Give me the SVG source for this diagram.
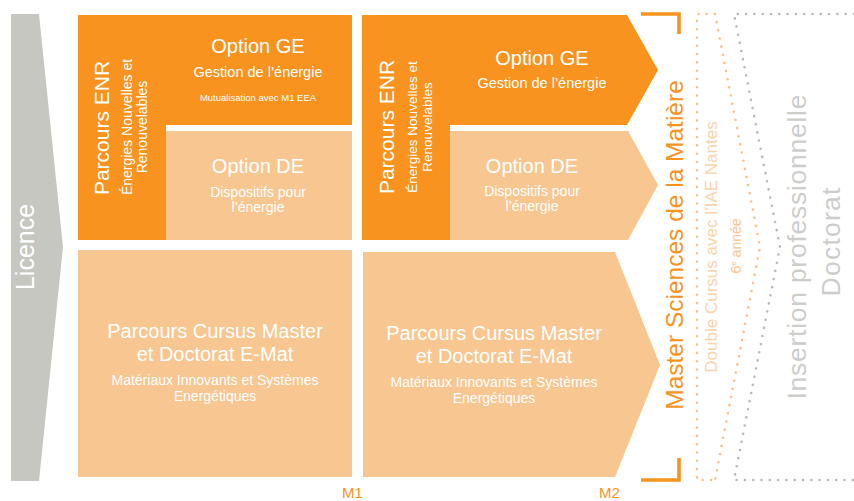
<svg xmlns="http://www.w3.org/2000/svg" width="854" height="501" viewBox="0 0 854 501">
<style>
.or{fill:#f7931e}
.lt{fill:#f8c690}
.t{font-family:"Liberation Sans",Arial,sans-serif;fill:#fff;text-anchor:middle}
.h{font-size:20px}
.s{font-size:14px}
.dot{fill:none;stroke-width:2.6;stroke-linecap:round;stroke-dasharray:0 8.3}
</style>
<rect width="854" height="501" fill="#fff"/>
<g id="licence">
<polygon points="11,14 39,14 63,247 39,481 11,481" fill="#c7c7c2"/>
<text class="t" x="34" y="247" font-size="25" transform="rotate(-90 34 247)">Licence</text>
</g>
<g id="m1-enr-ge">
<path class="or" d="M78,15H352V125H166V240H78Z"/>
<g transform="rotate(-90 109 128)"><text class="t" x="109" y="128" font-size="21">Parcours ENR</text></g>
<g transform="rotate(-90 132 127)"><text class="t s" x="132" y="127" font-size="13.5">Énergies Nouvelles et</text></g>
<g transform="rotate(-90 147 127)"><text class="t s" x="147" y="127" font-size="13.5">Renouvelables</text></g>
<text class="t h" x="258" y="53">Option GE</text>
<text class="t" x="258" y="77" font-size="14.5">Gestion de l’énergie</text>
<text class="t" x="258" y="101" font-size="9.5">Mutualisation avec M1 EEA</text>
</g>
<g id="m1-de">
<rect class="lt" x="166" y="131" width="186" height="109"/>
<text class="t h" x="258" y="173">Option DE</text>
<text class="t s" x="258" y="197">Dispositifs pour</text>
<text class="t s" x="258" y="212">l’énergie</text>
</g>
<g id="m1-emat">
<rect class="lt" x="78" y="250" width="274" height="227"/>
<text class="t h" x="215" y="338">Parcours Cursus Master</text>
<text class="t h" x="215" y="361">et Doctorat E-Mat</text>
<text class="t s" x="215" y="385">Matériaux Innovants et Systèmes</text>
<text class="t s" x="215" y="401">Energétiques</text>
</g>
<g id="m2-enr-ge">
<path class="or" d="M362,15H627L658,70L627,125H450V240H362Z"/>
<g transform="rotate(-90 394 127)"><text class="t" x="394" y="127" font-size="21">Parcours ENR</text></g>
<g transform="rotate(-90 417 127)"><text class="t" x="417" y="127" font-size="13.5">Énergies Nouvelles et</text></g>
<g transform="rotate(-90 432 127)"><text class="t" x="432" y="127" font-size="13.5">Renouvelables</text></g>
<text class="t h" x="542" y="65">Option GE</text>
<text class="t" x="542" y="88" font-size="14.5">Gestion de l’énergie</text>
</g>
<g id="m2-de">
<path class="lt" d="M450,131H628L658,185L628,240H450Z"/>
<text class="t h" x="532" y="173">Option DE</text>
<text class="t s" x="532" y="196">Dispositifs pour</text>
<text class="t s" x="532" y="211">l’énergie</text>
</g>
<g id="m2-emat">
<path class="lt" d="M363,252H615L660,365L615,477H363Z"/>
<text class="t h" x="494" y="340">Parcours Cursus Master</text>
<text class="t h" x="494" y="363">et Doctorat E-Mat</text>
<text class="t s" x="494" y="387">Matériaux Innovants et Systèmes</text>
<text class="t s" x="494" y="403">Energétiques</text>
</g>
<g id="labels" font-family="Liberation Sans, Arial, sans-serif" font-size="15" fill="#f7931e">
<text x="342" y="498">M1</text>
<text x="599" y="498">M2</text>
</g>
<g id="master">
<polyline points="641,14 679,14 679,34" fill="none" stroke="#f7931e" stroke-width="3.6"/>
<polyline points="641,480 679,480 679,458" fill="none" stroke="#f7931e" stroke-width="3.6"/>
<text x="683" y="245" font-family="Liberation Sans, Arial, sans-serif" font-size="24.5" fill="#f7931e" text-anchor="middle" transform="rotate(-90 683 245)">Master Sciences de la Matière</text>
</g>
<g id="connectors">
<path class="dot" stroke="#f9c089" d="M715,14H697V480H715"/>
<path class="dot" stroke="#f9c089" d="M715,14L760,247L715,480"/>
<path class="dot" stroke="#b9b9b6" d="M854,14H734L780,247L734,480H854"/>
</g>
<g id="double">
<text x="717" y="247" font-family="Liberation Sans, Arial, sans-serif" font-size="17" fill="#fbd3aa" text-anchor="middle" transform="rotate(-90 717 247)">Double Cursus avec l’IAE Nantes</text>
<text x="741" y="246" font-family="Liberation Sans, Arial, sans-serif" font-size="14" fill="#f9c48f" text-anchor="middle" transform="rotate(-90 741 246)">6<tspan font-size="8" dy="-5">e</tspan><tspan dy="5"> année</tspan></text>
</g>
<g id="insertion" font-family="Liberation Sans, Arial, sans-serif" font-size="26.5" fill="#cdcdca" text-anchor="middle">
<text x="806" y="247" textLength="305" lengthAdjust="spacing" transform="rotate(-90 806 247)">Insertion professionnelle</text>
<text x="840" y="242" textLength="109" lengthAdjust="spacing" transform="rotate(-90 840 242)">Doctorat</text>
</g>
</svg>
